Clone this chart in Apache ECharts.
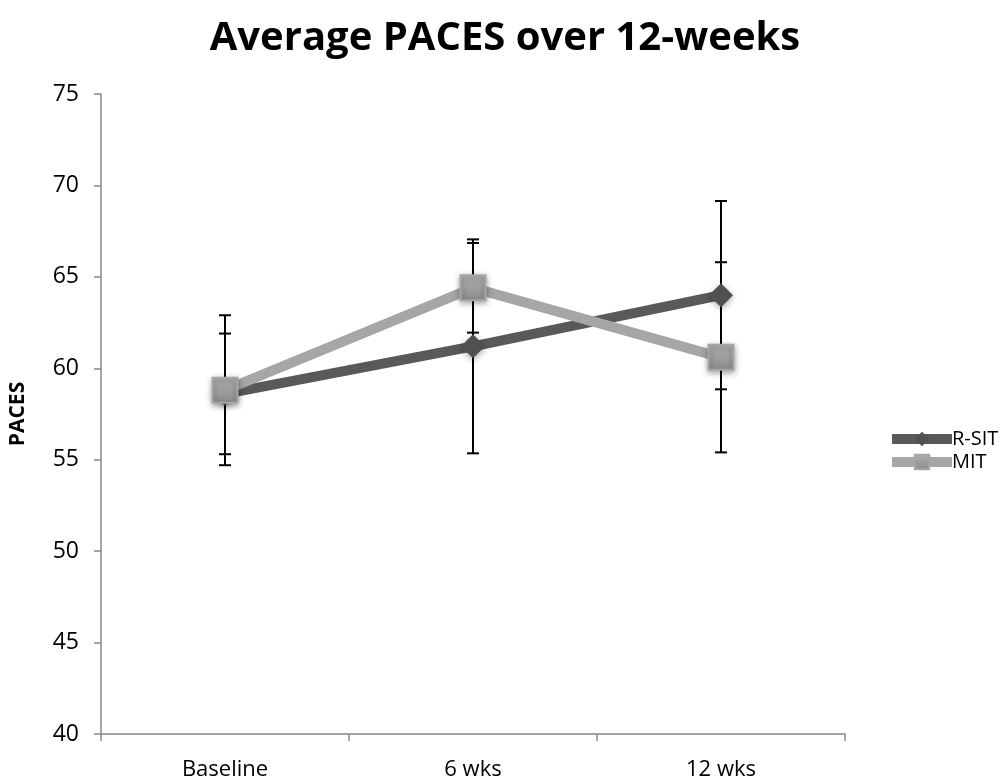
<!DOCTYPE html>
<html>
<head>
<meta charset="utf-8">
<script src="https://cdn.jsdelivr.net/npm/echarts@6/dist/echarts.min.js"></script>
<style>html,body{margin:0;padding:0;background:#fff}#c{width:1001px;height:781px}</style>
</head>
<body>
<div id="c"></div>
<script>
const categories = ['Baseline', '6 wks', '12 wks'];
const rsitValues = [58.6, 61.2, 64.0];
const mitValues = [58.8, 64.4, 60.6];
const rsitErrors = [3.3, 5.85, 5.15];
const mitErrors = [4.1, 2.45, 5.2];
const yTicks = [40, 45, 50, 55, 60, 65, 70, 75];

const FONT = 'Open Sans';
const chart = echarts.init(document.getElementById('c'));

function errData(vals, errs) {
  return vals.map((v, i) => [i, v - errs[i], v + errs[i]]);
}
function errSeries(name, vals, errs) {
  return {
    type: 'custom',
    name: name + ' err',
    z: 1,
    silent: true,
    data: errData(vals, errs),
    renderItem: function (params, api) {
      const x = api.value(0);
      const lo = api.coord([x, api.value(1)]);
      const hi = api.coord([x, api.value(2)]);
      const cw = 6;
      const style = { stroke: '#000', lineWidth: 2 };
      return {
        type: 'group',
        children: [
          { type: 'line', shape: { x1: lo[0], y1: lo[1], x2: hi[0], y2: hi[1] }, style: style },
          { type: 'line', shape: { x1: lo[0] - cw, y1: lo[1], x2: lo[0] + cw, y2: lo[1] }, style: style },
          { type: 'line', shape: { x1: hi[0] - cw, y1: hi[1], x2: hi[0] + cw, y2: hi[1] }, style: style }
        ]
      };
    }
  };
}

chart.setOption({
  animation: false,
  backgroundColor: '#fff',
  title: {
    text: 'Average PACES over 12-weeks',
    left: 500, top: 14, textAlign: 'center',
    textStyle: { fontFamily: FONT, fontWeight: 'bold', fontSize: 40, color: '#000' }
  },
  legend: {
    orient: 'vertical',
    left: 882, top: 424,
    itemWidth: 60, itemHeight: 18, itemGap: 3,
    data: ['R-SIT', 'MIT'],
    lineStyle: { width: 10 },
    textStyle: { fontFamily: FONT, fontSize: 20, color: '#000', padding: [0, 0, 0, -5] }
  },
  grid: { left: 97, right: 156, top: 94, bottom: 47 },
  xAxis: {
    type: 'category',
    data: categories,
    boundaryGap: true,
    axisLine: { lineStyle: { color: '#888', width: 1.5 } },
    axisTick: { show: true, length: 7, lineStyle: { color: '#888', width: 1.5 } },
    axisLabel: { fontFamily: FONT, fontSize: 22, color: '#000', margin: 25 }
  },
  yAxis: {
    type: 'value',
    min: 40, max: 75, interval: 5,
    name: 'PACES',
    nameLocation: 'middle',
    nameGap: 72,
    nameTextStyle: { fontFamily: FONT, fontWeight: 'bold', fontSize: 21, color: '#000' },
    splitLine: { show: false },
    axisLine: { show: true, lineStyle: { color: '#888', width: 1.5 } },
    axisTick: { show: true, length: 7, lineStyle: { color: '#888', width: 1.5 } },
    axisLabel: { fontFamily: FONT, fontSize: 23, color: '#000', margin: 22,
      formatter: v => yTicks.includes(v) ? String(v) : '' }
  },
  series: [
    errSeries('R-SIT', rsitValues, rsitErrors),
    errSeries('MIT', mitValues, mitErrors),
    {
      name: 'R-SIT', type: 'line', z: 3, data: rsitValues,
      symbol: 'diamond', symbolSize: 24,
      lineStyle: { color: '#595959', width: 10 },
      itemStyle: { color: '#505050', borderWidth: 0, shadowBlur: 6, shadowColor: 'rgba(0,0,0,0.35)', shadowOffsetY: 2 }
    },
    {
      name: 'MIT', type: 'line', z: 4, data: mitValues,
      symbol: 'rect', symbolSize: 25,
      lineStyle: { color: '#a6a6a6', width: 10 },
      itemStyle: {
        color: new echarts.graphic.LinearGradient(0, 0, 0, 1, [
          { offset: 0, color: '#b0b0b0' }, { offset: 1, color: '#8c8c8c' }
        ]),
        borderColor: '#a6a6a6', borderWidth: 2,
        shadowBlur: 6, shadowColor: 'rgba(0,0,0,0.35)', shadowOffsetY: 2
      }
    }
  ]
});
</script>
</body>
</html>
